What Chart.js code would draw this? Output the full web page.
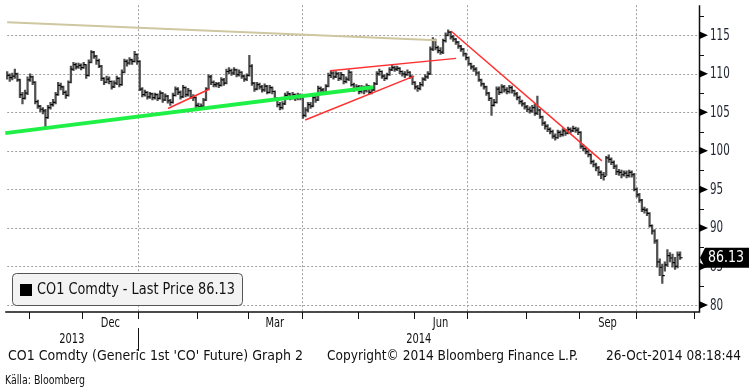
<!DOCTYPE html>
<html><head><meta charset="utf-8">
<script src="https://cdn.jsdelivr.net/npm/chart.js@4/dist/chart.umd.min.js"></script>
<style>html,body{margin:0;padding:0;background:#fff;}canvas{display:block;}</style>
</head><body>
<canvas id="c" width="749" height="392"></canvas>
<script>
// ---------- DATA ----------
const firstDay = [2013, 9, 21];      // first trading day shown (21-Oct-2013)
const axisEndDay = [2014, 10, 7];     // calendar end for axis ticks
const closes = [
109.8,109.5,109.7,110.0,109.2,107.3,106.8,107.5,109.2,109.6,
108.9,106.4,105.8,105.4,105.2,104.3,105.6,106.0,106.3,107.3,
108.5,108.3,107.6,107.2,108.9,110.6,111.2,110.9,111.1,110.8,
111.2,109.8,111.5,112.8,112.3,111.7,111.0,109.4,108.9,109.3,
109.0,108.3,108.8,109.4,108.6,110.2,111.6,111.4,111.8,111.6,
112.5,111.6,108.0,107.3,107.6,107.0,107.4,106.9,107.3,106.8,
107.5,106.6,107.1,106.5,106.3,107.2,108.0,107.6,107.0,108.2,
107.3,107.8,107.0,106.9,105.9,105.7,105.8,106.6,108.0,109.6,
108.9,108.6,108.7,108.5,109.2,108.8,110.3,110.4,110.1,110.5,
109.9,110.2,109.7,109.3,109.8,111.0,108.8,108.0,108.6,108.3,
107.9,108.4,107.6,108.2,107.7,106.8,106.0,105.6,106.1,107.2,
107.4,106.9,107.3,106.8,107.2,106.9,104.6,105.3,106.0,105.8,
106.9,106.6,108.1,107.9,107.6,108.4,109.8,110.1,109.6,110.0,
109.4,109.9,109.0,109.3,110.2,108.6,108.0,108.3,107.7,108.2,
107.8,108.4,107.6,107.9,108.7,110.0,110.3,109.7,109.4,109.9,
110.5,110.8,110.6,110.7,110.3,110.0,109.9,110.2,109.7,108.9,
108.3,108.1,108.6,109.3,109.6,110.0,113.2,114.4,113.4,113.0,
112.8,114.3,115.0,115.4,114.8,114.5,114.1,113.6,113.2,112.6,
112.1,111.3,110.9,110.6,110.1,109.2,108.7,108.3,107.5,106.8,
105.9,106.3,108.0,107.6,108.3,107.9,107.7,108.2,107.8,107.4,
106.9,106.4,106.1,105.7,105.4,105.2,105.6,104.9,105.3,104.4,
103.6,103.2,102.8,102.5,101.9,101.7,102.4,102.1,102.6,102.3,
102.8,102.6,102.9,102.7,102.4,100.6,100.3,99.9,99.5,98.6,
98.2,97.8,97.2,96.9,96.7,99.1,98.9,98.5,98.0,97.3,
97.2,96.9,97.1,96.8,97.2,96.9,95.0,94.3,93.6,92.4,
92.3,91.9,90.3,89.6,88.3,85.6,84.9,83.8,85.2,86.4,
86.1,85.5,85.0,86.5,86.13];
const highs = [
110.3,110.0,110.1,110.6,110.1,109.3,107.6,107.9,109.6,110.0,
109.7,109.0,106.6,105.9,105.6,105.4,105.9,106.3,106.7,107.6,
108.9,108.8,108.4,107.8,109.1,111.0,111.5,111.4,111.4,111.3,
111.5,111.2,111.8,113.0,112.9,112.4,111.9,111.1,109.5,109.7,
109.6,109.1,109.1,109.7,109.5,110.5,111.9,111.8,112.1,111.9,
112.9,112.6,111.7,108.2,107.9,107.7,107.6,107.5,107.5,107.4,
107.8,107.6,107.4,107.2,106.7,107.5,108.3,108.2,107.8,108.5,
108.3,108.1,107.9,107.3,107.0,106.2,106.1,106.8,108.2,109.9,
109.8,109.1,108.9,108.9,109.5,109.4,110.6,110.8,110.6,110.8,
110.6,110.5,110.3,109.8,110.0,112.4,111.2,108.9,108.9,108.8,
108.5,108.7,108.5,108.5,108.3,107.8,106.9,106.3,106.4,107.5,
107.7,107.5,107.6,107.4,107.5,107.4,106.9,105.6,106.3,106.3,
107.2,107.1,108.4,108.3,108.1,108.6,110.1,110.4,110.3,110.3,
110.2,110.2,109.9,109.6,110.5,110.3,108.8,108.6,108.5,108.5,
108.4,108.7,108.5,108.2,108.9,110.3,110.6,110.4,109.9,110.1,
110.8,111.1,111.0,111.0,110.8,110.4,110.3,110.5,110.3,109.7,
109.0,108.5,108.9,109.5,109.9,110.3,113.5,114.7,114.5,113.6,
113.4,114.5,115.3,115.7,115.5,115.0,114.6,114.2,113.7,113.3,
112.7,112.2,111.4,111.1,110.8,110.3,109.3,108.8,108.4,107.6,
106.9,106.7,108.3,108.3,108.6,108.5,108.2,108.5,108.4,107.9,
107.6,107.1,106.6,106.3,105.9,105.7,105.9,106.1,107.1,105.4,
104.5,103.8,103.4,103.0,102.7,102.2,102.7,102.6,102.9,102.8,
103.1,103.0,103.2,103.1,103.0,102.5,100.8,100.5,100.1,99.6,
98.8,98.4,98.0,97.4,97.2,99.3,99.5,99.1,98.7,98.2,
97.6,97.5,97.4,97.4,97.5,97.4,97.1,95.2,94.5,93.7,
92.7,92.5,92.0,90.4,89.8,88.5,86.0,85.3,85.6,87.2,
86.8,86.6,86.2,86.9,86.9];
const lows = [
109.3,109.0,109.2,109.4,109.0,106.9,106.1,106.7,107.3,109.0,
108.6,106.1,105.5,105.1,104.8,103.1,104.2,105.4,105.8,106.1,
107.2,107.9,107.3,106.8,107.1,108.8,110.4,110.6,110.7,110.5,
110.7,109.4,109.7,111.4,112.0,111.2,110.8,109.1,108.6,108.8,
108.7,108.0,108.2,108.6,108.3,108.5,110.1,111.0,111.2,111.2,
111.5,111.2,107.8,107.0,107.1,106.7,106.8,106.6,106.7,106.5,
106.7,106.3,106.5,106.2,105.9,106.2,107.1,107.3,106.7,106.9,
107.0,107.1,106.8,106.5,105.6,105.3,105.4,105.6,106.5,107.9,
108.6,108.3,108.3,108.2,108.4,108.5,108.7,110.0,109.8,109.9,
109.6,109.7,109.4,109.0,109.1,109.7,108.5,107.7,107.9,108.0,
107.6,107.7,107.4,107.5,107.4,106.5,105.7,105.3,105.4,106.0,
107.0,106.6,106.7,106.5,106.6,106.6,104.2,104.4,105.1,105.5,
105.7,106.3,106.5,107.5,107.3,107.4,108.3,109.5,109.3,109.5,
109.1,109.2,108.7,108.8,109.1,108.4,107.7,107.8,107.4,107.5,
107.4,107.6,107.3,107.4,107.8,108.6,109.8,109.4,109.1,109.3,
109.8,110.4,110.3,110.4,110.0,109.7,109.5,109.8,109.4,108.6,
108.0,107.7,107.9,108.4,109.1,109.4,109.9,113.0,113.1,112.7,
112.5,112.6,114.1,114.9,114.5,114.2,113.8,113.3,112.9,112.3,
111.8,111.1,110.6,110.3,109.8,109.0,108.4,108.0,107.2,106.5,
104.6,105.8,106.2,107.3,107.5,107.6,107.4,107.5,107.5,107.1,
106.6,106.1,105.8,105.4,105.1,104.9,105.0,104.6,104.7,104.2,
103.3,102.8,102.5,102.2,101.6,101.4,101.6,101.8,101.9,102.0,
102.2,102.3,102.5,102.4,102.1,100.3,100.0,99.6,99.2,98.3,
97.9,97.4,96.8,96.4,96.2,96.8,98.5,98.2,97.7,96.9,
96.8,96.5,96.7,96.5,96.6,96.6,94.8,94.0,93.3,92.1,
91.9,91.6,90.1,89.2,88.0,84.9,83.8,82.8,84.4,85.0,
85.6,84.9,84.6,84.8,85.9];
// trend lines drawn on the chart: [startIndex, startPrice, endIndex, endPrice]
const tanLine   = [0, 116.7, 168.6, 114.35];
const greenLine = [-0.8, 102.3, 143.5, 108.25];
const redLines  = [
  [63.1, 105.5, 79.2, 108.0],
  [126.7, 110.4, 176.1, 112.0],
  [116.9, 104.0, 159.6, 109.7],
  [174.1, 115.55, 233.3, 98.7]
];
const yMajorTicks = [80, 85, 90, 95, 100, 105, 110, 115];
const yMinorTicks = [82.5, 87.5, 92.5, 97.5, 102.5, 107.5, 112.5, 117.5];
const monthNames = ['Jan','Feb','Mar','Apr','May','Jun','Jul','Aug','Sep','Oct','Nov','Dec'];
const labeledMonths = ['Dec','Mar','Jun','Sep'];
const gridMonths = ['Jan','Apr','Jul','Oct'];
const yearLabels = ['2013','2014'];
const legendText = 'CO1 Comdty - Last Price 86.13';
const footerLeft = "CO1 Comdty (Generic 1st 'CO' Future) Graph 2";
const footerMid = 'Copyright\u00a9 2014 Bloomberg Finance L.P.';
const footerRight = '26-Oct-2014 08:18:44';
const sourceText = 'K\u00e4lla: Bloomberg';

// ---------- calendar of weekdays (categories) ----------
const days = [];
for (let d = new Date(firstDay[0], firstDay[1], firstDay[2]); d <= new Date(axisEndDay[0], axisEndDay[1], axisEndDay[2]); d.setDate(d.getDate() + 1)) {
  const wd = d.getDay();
  if (wd !== 0 && wd !== 6) days.push(new Date(d));
}
const boundaries = [];
for (let i = 1; i < days.length; i++) {
  if (days[i].getMonth() !== days[i-1].getMonth()) boundaries.push({pos: i - 0.5, month: days[i].getMonth(), year: days[i].getFullYear()});
}
const N = closes.length;
const lastPrice = closes[N - 1];

const FONT = '"DejaVu Sans Condensed","DejaVu Sans",sans-serif';
function drawText(ctx, text, x, y, size, align, color, opts) {
  ctx.save();
  ctx.font = (opts && opts.bold ? 'bold ' : '') + size + 'px ' + FONT;
  const m = ctx.measureText(text).width;
  let w, s;
  if (opts && opts.width) { w = opts.width; s = w / m; } else { s = (opts && opts.hs) || 0.82; w = m * s; }
  const left = align === 'center' ? x - w / 2 : align === 'right' ? x - w : x;
  ctx.fillStyle = color; ctx.textBaseline = 'middle'; ctx.textAlign = 'left';
  ctx.translate(left, y); ctx.scale(s, 1); ctx.fillText(text, 0, 0);
  ctx.restore();
}

const bbg = {
  id: 'bbg',
  beforeDatasetsDraw(chart) {
    const {ctx, chartArea: a, scales: {x, y}} = chart;
    ctx.save();
    ctx.strokeStyle = '#a0a0a0'; ctx.lineWidth = 1; ctx.setLineDash([2, 2]);
    yMajorTicks.forEach(v => {
      const py = Math.round(y.getPixelForValue(v)) + 0.5;
      ctx.beginPath(); ctx.moveTo(a.left + 2, py); ctx.lineTo(a.right, py); ctx.stroke();
    });
    boundaries.forEach(b => {
      if (gridMonths.includes(monthNames[b.month])) {
        const px = Math.round(x.getPixelForValue(b.pos)) + 0.5;
        if (px > a.left && px < a.right) { ctx.beginPath(); ctx.moveTo(px, a.top); ctx.lineTo(px, a.bottom); ctx.stroke(); }
      }
    });
    ctx.restore();
  },
  afterDraw(chart) {
    const {ctx, chartArea: a, scales: {x, y}} = chart;
    ctx.save();
    ctx.strokeStyle = '#111'; ctx.lineWidth = 1.5;
    ctx.beginPath(); ctx.moveTo(a.right + 0.5, a.top); ctx.lineTo(a.right + 0.5, a.bottom + 1); ctx.lineTo(a.left, a.bottom + 1); ctx.stroke();
    ctx.fillStyle = '#000'; ctx.lineWidth = 1;
    yMajorTicks.forEach(v => {
      const py = y.getPixelForValue(v);
      ctx.beginPath(); ctx.moveTo(a.right, py - 4); ctx.lineTo(a.right + 9, py); ctx.lineTo(a.right, py + 4); ctx.closePath(); ctx.fill();
      drawText(ctx, String(v), a.right + 11, py + 0.5, 15.5, 'left', '#1e2430', {hs: 0.74});
    });
    yMinorTicks.forEach(v => {
      const py = Math.round(y.getPixelForValue(v)) + 0.5;
      ctx.beginPath(); ctx.moveTo(a.right, py); ctx.lineTo(a.right + 5, py); ctx.stroke();
    });
    ctx.lineWidth = 1; ctx.strokeStyle = '#111';
    boundaries.forEach((b, k) => {
      const px = Math.round(x.getPixelForValue(b.pos)) + 0.5;
      if (px >= a.left && px <= a.right) { ctx.beginPath(); ctx.moveTo(px, a.bottom + 1); ctx.lineTo(px, a.bottom + 8); ctx.stroke(); }
      const name = monthNames[b.month];
      if (labeledMonths.includes(name) && k + 1 < boundaries.length) {
        const mid = (x.getPixelForValue(b.pos) + x.getPixelForValue(boundaries[k + 1].pos)) / 2;
        drawText(ctx, name, mid, a.bottom + 12, 14.5, 'center', '#111', {hs: 0.76});
      }
    });
    const jan = boundaries.find(b => b.month === 0);
    const janPx = Math.round(x.getPixelForValue(jan.pos)) + 0.5;
    ctx.beginPath(); ctx.moveTo(janPx, a.bottom + 17); ctx.lineTo(janPx, a.bottom + 40); ctx.stroke();
    drawText(ctx, yearLabels[0], (a.left + janPx) / 2, a.bottom + 28, 14.5, 'center', '#111', {hs: 0.76});
    drawText(ctx, yearLabels[1], (janPx + a.right) / 2, a.bottom + 28, 14.5, 'center', '#111', {hs: 0.76});
    drawText(ctx, footerLeft, 8, 356, 14, 'left', '#111', {width: 295});
    drawText(ctx, footerMid, 327, 356, 14, 'left', '#111', {width: 251});
    drawText(ctx, footerRight, 741, 356, 14, 'right', '#111', {width: 135});
    drawText(ctx, sourceText, 5, 381, 12, 'left', '#111', {width: 80});
    ctx.beginPath(); ctx.roundRect(12.5, 273.5, 230, 32, 4);
    ctx.fillStyle = '#f3f3f3'; ctx.fill(); ctx.strokeStyle = '#555'; ctx.stroke();
    ctx.fillStyle = '#000'; ctx.fillRect(20, 284, 12, 12);
    drawText(ctx, legendText, 37, 290.5, 15, 'left', '#111', {width: 198});
    const ly = y.getPixelForValue(lastPrice);
    ctx.beginPath(); ctx.moveTo(a.right + 1, ly); ctx.lineTo(a.right + 6, ly - 10); ctx.lineTo(749, ly - 10); ctx.lineTo(749, ly + 10); ctx.lineTo(a.right + 6, ly + 10); ctx.closePath();
    ctx.fillStyle = '#000'; ctx.fill();
    drawText(ctx, lastPrice.toFixed(2), a.right + 9, ly + 0.5, 15, 'left', '#fff', {width: 36});
    ctx.restore();
  }
};

function seg(l) { return [{x: l[0], y: l[1]}, {x: l[2], y: l[3]}]; }
const datasets = [
  {type: 'bar', data: closes.map((c, i) => ({x: i, y: [lows[i], highs[i]]})), backgroundColor: '#505050', barThickness: 1.6, order: 4},
  {type: 'line', data: closes.map((c, i) => ({x: i, y: c})), showLine: false, pointStyle: 'dash', pointRadius: 2.5, pointBorderWidth: 1.2, pointBorderColor: '#000', pointBackgroundColor: '#000', order: 3},
  {type: 'line', data: seg(tanLine), borderColor: '#cfc7a0', borderWidth: 2, pointRadius: 0, order: 2},
  {type: 'line', data: seg(greenLine), borderColor: '#1ef046', borderWidth: 4, pointRadius: 0, order: 1}
];
redLines.forEach(l => datasets.push({type: 'line', data: seg(l), borderColor: '#ff3030', borderWidth: 1.5, pointRadius: 0, order: 1}));

new Chart(document.getElementById('c'), {
  data: {datasets},
  options: {
    responsive: false, animation: false, devicePixelRatio: 1, events: [],
    layout: {padding: {left: 5, top: 5, right: 50, bottom: 81}},
    plugins: {legend: {display: false}, tooltip: {enabled: false}},
    scales: {
      x: {type: 'linear', display: false, min: -0.78, max: 271.4, offset: false},
      y: {type: 'linear', display: false, min: 79.22, max: 118.9}
    }
  },
  plugins: [bbg]
});
</script>
</body></html>
